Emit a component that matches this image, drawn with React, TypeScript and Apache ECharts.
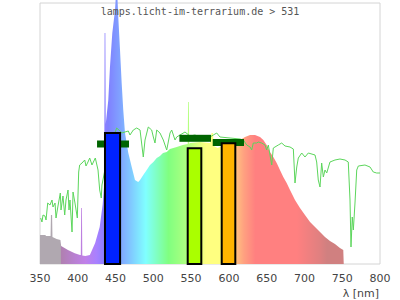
import React, { useEffect, useRef } from "react";
import * as echarts from "echarts";

// Lamp spectrum: [wavelength nm, relative intensity]
const spectrum: [number, number][] = [
  [350, 29], [357, 29], [358, 28], [364, 28], [364.5, 49], [366, 49], [366.5, 27],
  [372, 25], [377, 24], [378, 18], [387, 14], [396, 10.7], [403, 9], [404, 9],
  [404.5, 56], [405.5, 56], [406, 8.5], [410, 8], [416, 9], [423, 21], [429, 37],
  [433, 60], [435, 80], [435.5, 231], [436.5, 231], [437, 140], [440.4, 164],
  [442.6, 197], [445.7, 231], [449.3, 254], [451, 275], [452, 275], [453.6, 247],
  [455.9, 214], [458.1, 181], [460.2, 154], [462.5, 131], [466.9, 111], [471.4, 97],
  [475.7, 84], [480, 82], [482.4, 84], [486.7, 89], [491.2, 94], [495.6, 99],
  [500, 102], [504.5, 106], [508.8, 108], [512.8, 111], [517.7, 112], [522, 115],
  [531, 117], [539, 119], [545.5, 120], [546, 162], [547, 162], [547.5, 120],
  [548.5, 121], [562, 122], [575, 121], [577, 131], [579, 131], [580, 118],
  [585, 116], [595, 119], [605, 120], [610, 121], [614.7, 124], [621.3, 127],
  [628, 129], [634.6, 129], [641.2, 127], [645.6, 124], [650, 119], [654.4, 112],
  [658.8, 107], [663.3, 101], [667.6, 94], [672, 87], [676.5, 81], [680.9, 74],
  [687.5, 64], [694.1, 56], [700.7, 49], [707.4, 42], [714, 37], [720.6, 32],
  [727.2, 27], [733.8, 23], [740.4, 20], [747, 16], [751.4, 14], [752, 0],
];

// Reference (daylight) spectrum line
const daylight: [number, number][] = [
  [350.9, 46], [352.6, 42], [354, 49], [356.6, 48], [358, 44], [360.2, 61], [363.2, 59],
  [365.9, 64], [367.2, 57], [369.9, 61], [371.2, 46], [373.8, 58], [376.9, 71], [377.8, 54],
  [380.4, 68], [382.7, 49], [384.4, 64], [387.1, 74], [388.4, 54], [389.7, 64], [392.4, 32],
  [393.7, 72], [396.3, 61], [399.4, 46], [401.2, 92], [402.5, 99], [405.6, 101], [409.2, 104],
  [410.9, 98], [413.5, 102], [415.8, 106], [418.8, 99], [423.2, 106], [426.8, 94], [429, 74],
  [431.1, 66], [432, 79], [440, 110], [446, 125], [451.5, 136], [455.9, 133], [458.1, 131],
  [462.5, 132], [466.9, 133], [469.1, 129], [473.5, 134], [478, 136], [482.4, 134],
  [486.7, 107], [489, 124], [493.3, 137], [497.8, 134], [500, 127], [502.2, 121],
  [504.5, 134], [508.8, 131], [513.2, 124], [517.7, 114], [522.1, 131], [524.3, 134],
  [528.7, 124], [530.9, 127], [535.3, 129], [541.9, 132], [548.5, 128], [555.1, 129],
  [561.8, 127], [568.4, 128], [575, 127], [579.4, 129], [583.9, 131], [588.2, 127],
  [601.5, 126], [614.7, 125], [619.1, 124], [623.6, 119], [628, 117], [630.2, 114],
  [632.3, 121], [636.8, 121], [638.9, 122], [643.4, 121], [647.8, 119], [650, 114],
  [652.2, 119], [654.4, 109], [656.7, 99], [658.8, 116], [661, 117], [665.4, 119],
  [669.9, 121], [674.3, 118], [680.9, 117], [685.3, 115], [687.5, 81], [689.8, 97],
  [691.9, 106], [696.4, 111], [700.7, 107], [705.1, 111], [714, 109], [716.2, 102],
  [718.3, 84], [720.6, 77], [722.8, 101], [725, 87], [727.2, 94], [729.5, 91],
  [733.8, 102], [740.4, 104], [747, 105], [753.7, 104], [758, 102], [760.3, 64],
  [761.6, 17], [763.3, 47], [764.7, 34], [766.9, 61], [769.2, 94], [771.3, 98],
  [780.1, 99], [786.8, 97], [791.1, 92], [795.6, 91], [800, 91],
];

// Band bars
const bandFrom = [436, 545.5, 590.5];
const bandTo = [456, 563.5, 608.5];
const bandValues = [131, 115.7, 120.7];
const bandColors = ["#0022ff", "#aaff00", "#ffb400"];

// Reference markers
const markerFrom = [425.5, 534.5, 578.6];
const markerTo = [467.8, 576.3, 620];
const markerValues = [120, 125.7, 121.5];

const xTicks = { min: 350, max: 800, interval: 50 };

// Spectral colour stops: [wavelength, colour]
const colorStops: [number, string][] = [
  [350, "#b0a8b0"], [377, "#b0a8b0"], [378, "#b080b0"], [395, "#b880d0"],
  [410, "#c080e8"], [425, "#a880ff"], [440, "#8080ff"], [455, "#80a0ff"],
  [470, "#80c8ff"], [490, "#80ffff"], [505, "#80ffc0"], [520, "#80ff80"],
  [545, "#b0ff80"], [560, "#e0ff80"], [570, "#ffff80"], [590, "#ffff80"],
  [605, "#ffd080"], [620, "#ffa080"], [635, "#ff8080"], [690, "#ff8080"],
  [720, "#e08080"], [730, "#d08080"], [800, "#d08080"],
];

export default function App() {
  const ref = useRef<HTMLDivElement>(null);
  useEffect(() => {
    if (!ref.current) return;
    const chart = echarts.init(ref.current, null, { renderer: "svg" });
    const gridLeft = 40;
    const gridRight = 380;
    const grad = new echarts.graphic.LinearGradient(
      gridLeft, 0, gridRight, 0,
      colorStops.map(([l, c]) => ({ offset: (l - xTicks.min) / (xTicks.max - xTicks.min), color: c })),
      true
    );
    const bandData = bandFrom.map((f, i) => [f, bandTo[i], bandValues[i]]);
    const markerData = markerFrom.map((f, i) => [f, markerTo[i], markerValues[i]]);
    chart.setOption({
      animation: false,
      title: {
        text: "lamps.licht-im-terrarium.de > 531",
        left: "center",
        top: 1,
        textStyle: { fontFamily: "DejaVu Sans Mono", fontSize: 10, color: "#555", fontWeight: "normal" },
      },
      grid: { left: gridLeft, right: 400 - gridRight, top: 3, bottom: 36, show: true, borderColor: "#d4d4d4", borderWidth: 1, backgroundColor: "transparent" },
      xAxis: {
        type: "value",
        min: xTicks.min,
        max: xTicks.max,
        interval: xTicks.interval,
        axisLine: { show: false },
        axisTick: { show: false },
        splitLine: { show: false },
        axisLabel: { color: "#444", fontSize: 11, fontFamily: "DejaVu Sans", margin: 9 },
      },
      yAxis: { type: "value", min: 0, max: 261, show: false, splitLine: { show: false } },
      graphic: [
        {
          type: "text",
          right: 21,
          top: 288,
          style: { text: "λ [nm]", font: "11px DejaVu Sans", fill: "#444" },
        },
      ],
      series: [
        {
          type: "line",
          data: spectrum,
          symbol: "none",
          clip: false,
          lineStyle: { width: 0 },
          areaStyle: { color: grad, opacity: 1 },
          z: 1,
        },
        {
          type: "line",
          data: daylight,
          symbol: "none",
          lineStyle: { width: 1, color: "#5cd65c" },
          z: 2,
        },
        {
          type: "custom",
          data: markerData,
          encode: { x: [0, 1], y: 2 },
          z: 3,
          renderItem: (params: any, api: any) => {
            const p1 = api.coord([api.value(0), api.value(2)]);
            const p2 = api.coord([api.value(1), api.value(2)]);
            return {
              type: "rect",
              shape: { x: p1[0], y: p1[1] - 3.5, width: p2[0] - p1[0], height: 7 },
              style: { fill: "#006400" },
            };
          },
        },
        {
          type: "custom",
          data: bandData,
          encode: { x: [0, 1], y: 2 },
          z: 4,
          renderItem: (params: any, api: any) => {
            const p1 = api.coord([api.value(0), api.value(2)]);
            const p2 = api.coord([api.value(1), 0]);
            return {
              type: "rect",
              shape: { x: p1[0], y: p1[1], width: p2[0] - p1[0], height: p2[1] - p1[1] },
              style: { fill: bandColors[params.dataIndex], stroke: "#000", lineWidth: 2 },
            };
          },
        },
      ],
    });
    return () => chart.dispose();
  }, []);
  return <div ref={ref} style={{ position: "absolute", left: 0, top: 0, width: 400, height: 300 }} />;
}
